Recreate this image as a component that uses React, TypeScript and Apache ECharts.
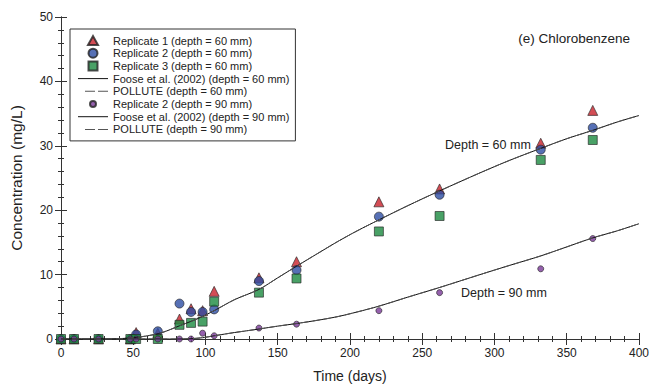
import React, { useEffect, useRef } from "react";
import * as echarts from "echarts";

const days = [0, 9, 26, 48, 52, 67, 82, 90, 98, 106, 137, 163, 220, 262, 332, 368];
const rep1d60 = [0, 0, 0, 0, 1.0, 0.9, 3.1, 4.7, 4.4, 7.4, 9.5, 12.0, 21.3, 23.3, 30.4, 35.5];
const rep2d60 = [0, 0, 0, 0, 0.7, 1.2, 5.5, 4.2, 4.2, 4.6, 9.0, 10.7, 19.0, 22.4, 29.4, 32.8];
const rep3d60 = [0, 0, 0, 0, 0, 0, 2.2, 2.5, 2.7, 5.8, 7.2, 9.4, 16.7, 19.1, 27.8, 30.9];
const rep2d90 = [0, 0, 0, 0, 0, 0, 0, 0, 0.9, 0.5, 1.7, 2.3, 4.4, 7.2, 10.9, 15.6];

const model60T = [0, 30, 40, 50, 60, 70, 82, 95, 106, 120, 137, 150, 163, 180, 192, 205, 220, 240, 262, 290, 310, 332, 350, 368, 385, 400];
const foose60 = [0, 0, 0.05, 0.2, 0.5, 1.0, 2.05, 3.2, 4.4, 6.1, 7.7, 9.5, 11.3, 13.6, 15.2, 16.8, 18.5, 20.7, 23.0, 25.8, 27.7, 29.6, 31.1, 32.4, 33.7, 34.7];
const pollute60 = [0, 0, 0.05, 0.2, 0.5, 1.0, 2.05, 3.2, 4.4, 6.1, 7.7, 9.5, 11.3, 13.6, 15.2, 16.8, 18.5, 20.7, 23.0, 25.8, 27.7, 29.6, 31.1, 32.4, 33.7, 34.7];

const model90T = [0, 60, 80, 90, 98, 106, 120, 137, 150, 163, 180, 192, 205, 220, 240, 262, 290, 310, 332, 350, 368, 385, 400];
const foose90 = [0, 0, 0, 0.05, 0.2, 0.5, 1.0, 1.55, 2.0, 2.4, 3.0, 3.5, 4.2, 5.1, 6.5, 8.0, 10.0, 11.4, 12.9, 14.3, 15.7, 16.8, 17.9];
const pollute90 = [0, 0, 0, 0.05, 0.2, 0.5, 1.0, 1.55, 2.0, 2.4, 3.0, 3.5, 4.2, 5.1, 6.5, 8.0, 10.0, 11.4, 12.9, 14.3, 15.7, 16.8, 17.9];

const xTicks = { min: 0, max: 400, interval: 50 };
const yTicks = { min: 0, max: 50, interval: 10 };

const names = [
  "Replicate 1 (depth = 60 mm)",
  "Replicate 2 (depth = 60 mm)",
  "Replicate 3 (depth = 60 mm)",
  "Foose et al. (2002) (depth = 60 mm)",
  "POLLUTE (depth = 60 mm)",
  "Replicate 2 (depth = 90 mm)",
  "Foose et al. (2002) (depth = 90 mm)",
  "POLLUTE (depth = 90 mm)",
];

const zip = (xs: number[], ys: number[]) => xs.map((x, i) => [x, ys[i]]);

// legend icons drawn in a 30x9 box (bounding points M0 0 / M30 9 keep the scale 1:1)
const box = "path://M0 0M30 9";
const iconTriangle = box + "M10 9L15 0L20 9Z";
const iconCircle = box + "M10.5 4.5A4.5 4.5 0 1 1 19.5 4.5A4.5 4.5 0 1 1 10.5 4.5Z";
const iconRect = box + "M10.5 0L19.5 0L19.5 9L10.5 9Z";
const iconDot = box + "M12 4.5A3 3 0 1 1 18 4.5A3 3 0 1 1 12 4.5Z";
const iconSolid = box + "M0 4L30 4L30 5L0 5Z";
const iconDashed = box + "M7 4L17 4L17 5L7 5ZM20 4L30 4L30 5L20 5Z";

export default function App() {
  const ref = useRef<HTMLDivElement>(null);
  useEffect(() => {
    if (!ref.current) return;
    const chart = echarts.init(ref.current, undefined, { renderer: "svg" });
    const font = "Liberation Sans, Arial, sans-serif";
    const axisColor = "#333";
    const baseAxis = (pos: string, labels: boolean, t: any) => ({
      type: "value",
      position: pos,
      min: t.min,
      max: t.max,
      interval: t.interval,
      axisLine: { show: true, lineStyle: { color: axisColor, width: 1 } },
      axisTick: { show: true, inside: true, length: 6, lineStyle: { color: axisColor } },
      minorTick: { show: true, splitNumber: 5, length: 3, lineStyle: { color: axisColor } },
      splitLine: { show: false },
      axisLabel: { show: labels, color: "#222", fontSize: 12, fontFamily: font, margin: 8 },
    });
    const marker = (color: string) => ({ color, borderColor: "#222", borderWidth: 0.8 });
    chart.setOption({
      animation: false,
      textStyle: { fontFamily: font },
      grid: { left: 60, right: 10, top: 17, bottom: 48 },
      xAxis: [
        {
          ...baseAxis("bottom", true, xTicks),
          name: "Time (days)",
          nameLocation: "middle",
          nameGap: 30,
          nameTextStyle: { fontSize: 14, color: "#222", fontFamily: font },
        },
        { ...baseAxis("top", false, xTicks) },
      ],
      yAxis: [
        {
          ...baseAxis("left", true, yTicks),
          name: "Concentration (mg/L)",
          nameLocation: "middle",
          nameGap: 37,
          nameTextStyle: { fontSize: 15.5, color: "#222", fontFamily: font },
        },
        { ...baseAxis("right", false, yTicks) },
      ],
      legend: {
        data: [
          { name: names[0], icon: iconTriangle },
          { name: names[1], icon: iconCircle },
          { name: names[2], icon: iconRect },
          { name: names[3], icon: iconSolid, itemStyle: { color: "#111", borderWidth: 0 } },
          { name: names[4], icon: iconDashed, itemStyle: { color: "#555", borderWidth: 0 } },
          { name: names[5], icon: iconDot },
          { name: names[6], icon: iconSolid, itemStyle: { color: "#111", borderWidth: 0 } },
          { name: names[7], icon: iconDashed, itemStyle: { color: "#555", borderWidth: 0 } },
        ],
        orient: "vertical",
        left: 70,
        top: 29,
        padding: [6, 6, 6, 7],
        itemWidth: 30,
        itemHeight: 9,
        itemGap: 1.7,
        symbolKeepAspect: true,
        borderColor: "#333",
        borderWidth: 1,
        borderRadius: 0,
        backgroundColor: "#fff",
        textStyle: { fontSize: 11, color: "#222", fontFamily: font },
      },
      graphic: [
        { type: "text", right: 22, top: 31, style: { text: "(e) Chlorobenzene", font: `13.5px ${font}`, fill: "#222" } },
        { type: "text", left: 445, top: 138, style: { text: "Depth = 60 mm", font: `12.5px ${font}`, fill: "#222" } },
        { type: "text", left: 461, top: 286, style: { text: "Depth = 90 mm", font: `12.5px ${font}`, fill: "#222" } },
      ],
      series: [
        { name: names[0], type: "scatter", symbol: "triangle", symbolSize: 10, data: zip(days, rep1d60), itemStyle: marker("#c8202a"), z: 2 },
        { name: names[1], type: "scatter", symbol: "circle", symbolSize: 9, data: zip(days, rep2d60), itemStyle: marker("#2c4ca2"), z: 2 },
        { name: names[2], type: "scatter", symbol: "rect", symbolSize: 9, data: zip(days, rep3d60), itemStyle: marker("#1c8a40"), z: 2 },
        { name: names[3], type: "line", showSymbol: false, symbol: "none", smooth: 0.3, data: zip(model60T, foose60), lineStyle: { color: "#111", width: 1 }, itemStyle: { color: "#111" }, z: 4 },
        { name: names[4], type: "line", showSymbol: false, symbol: "none", smooth: 0.3, data: zip(model60T, pollute60), lineStyle: { color: "#555", width: 1, type: [7, 4] }, itemStyle: { color: "#555" }, z: 4 },
        { name: names[5], type: "scatter", symbol: "circle", symbolSize: 6, data: zip(days, rep2d90), itemStyle: marker("#7a3a98"), z: 3 },
        { name: names[6], type: "line", showSymbol: false, symbol: "none", smooth: 0.3, data: zip(model90T, foose90), lineStyle: { color: "#111", width: 1 }, itemStyle: { color: "#111" }, z: 4 },
        { name: names[7], type: "line", showSymbol: false, symbol: "none", smooth: 0.3, data: zip(model90T, pollute90), lineStyle: { color: "#555", width: 1, type: [7, 4] }, itemStyle: { color: "#555" }, z: 4 },
      ],
    });
    return () => chart.dispose();
  }, []);
  return <div ref={ref} style={{ width: 652, height: 388, position: "absolute", left: 0, top: 0 }} />;
}
